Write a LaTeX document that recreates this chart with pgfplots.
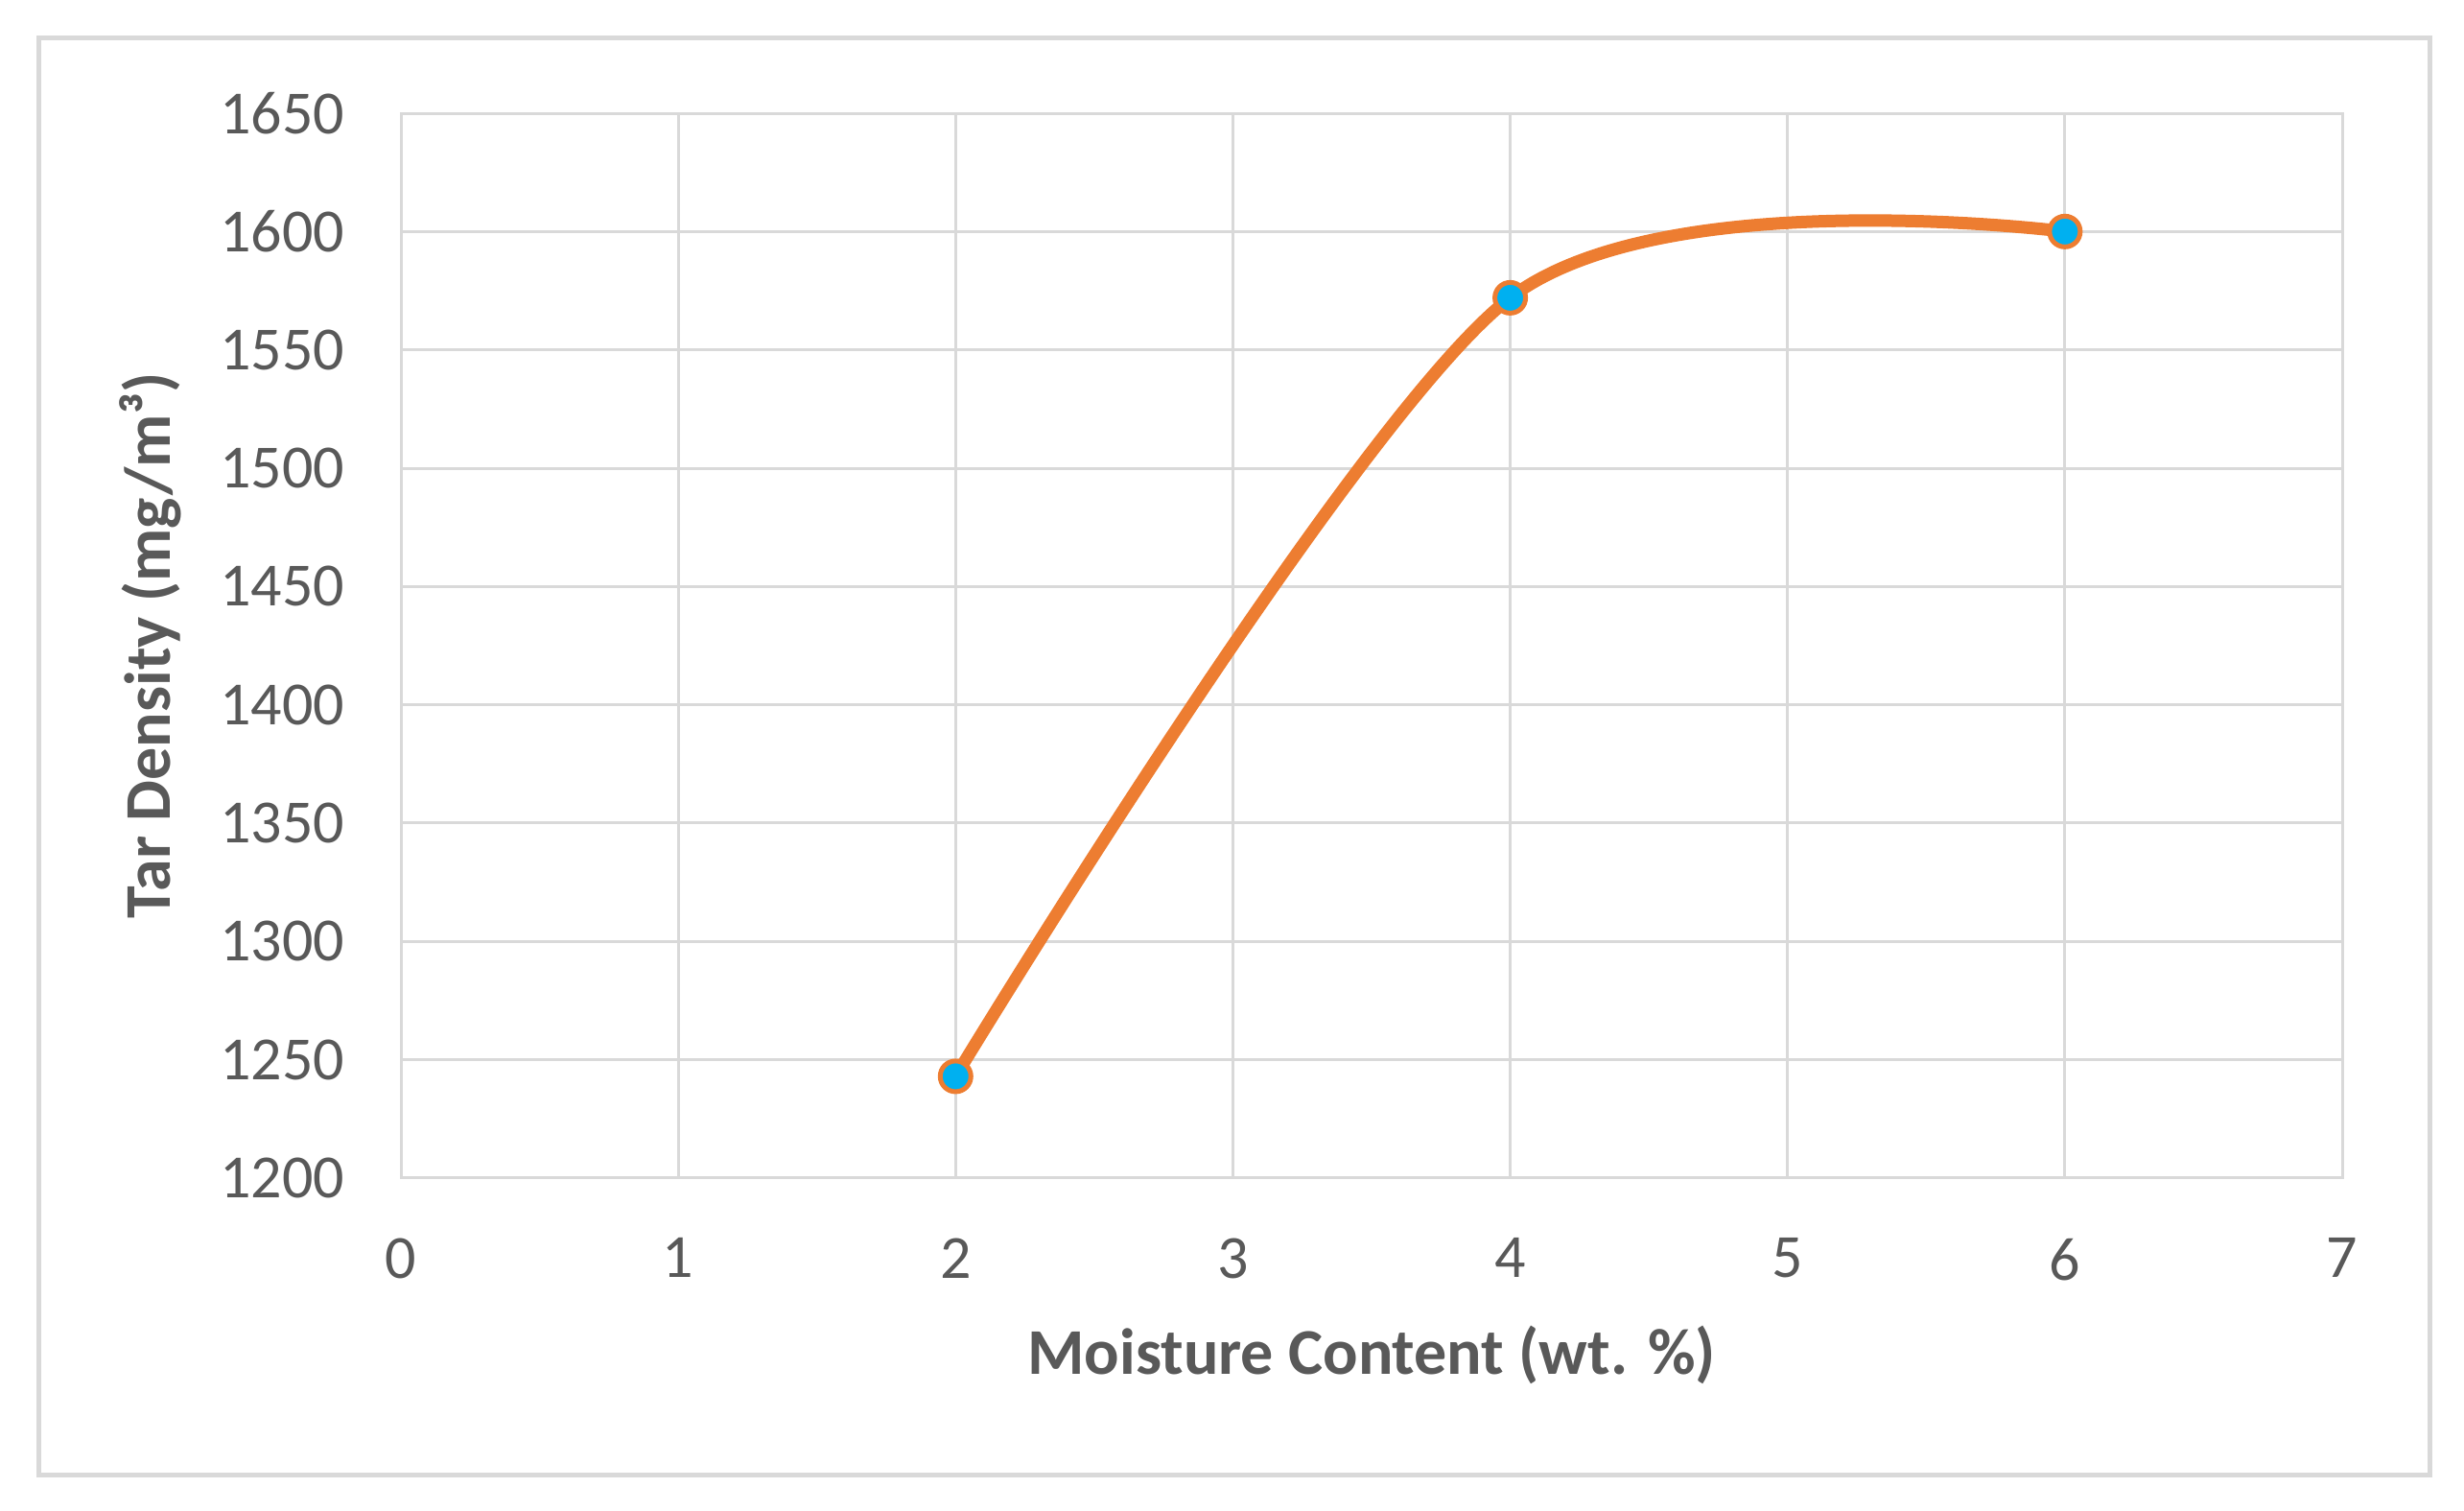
\documentclass[border=0pt]{standalone}
\usepackage{pgfplots}
\pgfplotsset{compat=1.18}
\usepackage{fontspec}
\setmainfont{Carlito}
\definecolor{txt}{HTML}{595959}
\definecolor{gridc}{HTML}{D9D9D9}
\definecolor{orangeL}{HTML}{ED7D31}
\definecolor{cyanM}{HTML}{00B0F0}
\begin{document}
\begin{tikzpicture}
\useasboundingbox (0pt,0pt) rectangle (642.25pt,393.5pt);
\draw[line width=1.25pt, gridc] (10pt,9.25pt) rectangle (633.25pt,383.5pt);
\begin{axis}[
  at={(104.5pt,86.5pt)}, anchor=south west,
  scale only axis, width=506pt, height=277.5pt,
  xmin=0, xmax=7, ymin=1200, ymax=1650,
  xtick={0,1,2,3,4,5,6,7},
  ytick={1200,1250,...,1650},
  grid=major,
  major grid style={gridc, line width=0.75pt},
  axis line style={gridc, line width=0.75pt},
  major tick length=0pt,
  tick style={draw=none},
  /pgf/number format/assume math mode=true,
  /pgf/number format/1000 sep={},
  ticklabel style={font=\fontsize{16}{19}\selectfont, text=txt},
  yticklabel style={anchor=east, inner sep=0pt, xshift=-14.5pt},
  xticklabel style={anchor=north, inner sep=0pt, yshift=-15.5pt},
  xlabel={Moisture Content (wt. \%)},
  ylabel={Tar Density (mg/m³)},
  label style={font=\fontsize{17}{20}\selectfont\bfseries, text=txt},
  xlabel style={at={(axis description cs:0.5,-0.1658)}, anchor=center},
  ylabel style={at={(axis description cs:-0.129,0.5)}, anchor=center},
  clip=false,
]
\addplot[smooth, tension=0.5, orangeL, line width=3.25pt,
  mark=*, mark size=4pt,
  mark options={fill=cyanM, draw=orangeL, line width=1.25pt}]
  coordinates {(2,1243) (4,1572) (6,1600)};
\end{axis}
\end{tikzpicture}
\end{document}
